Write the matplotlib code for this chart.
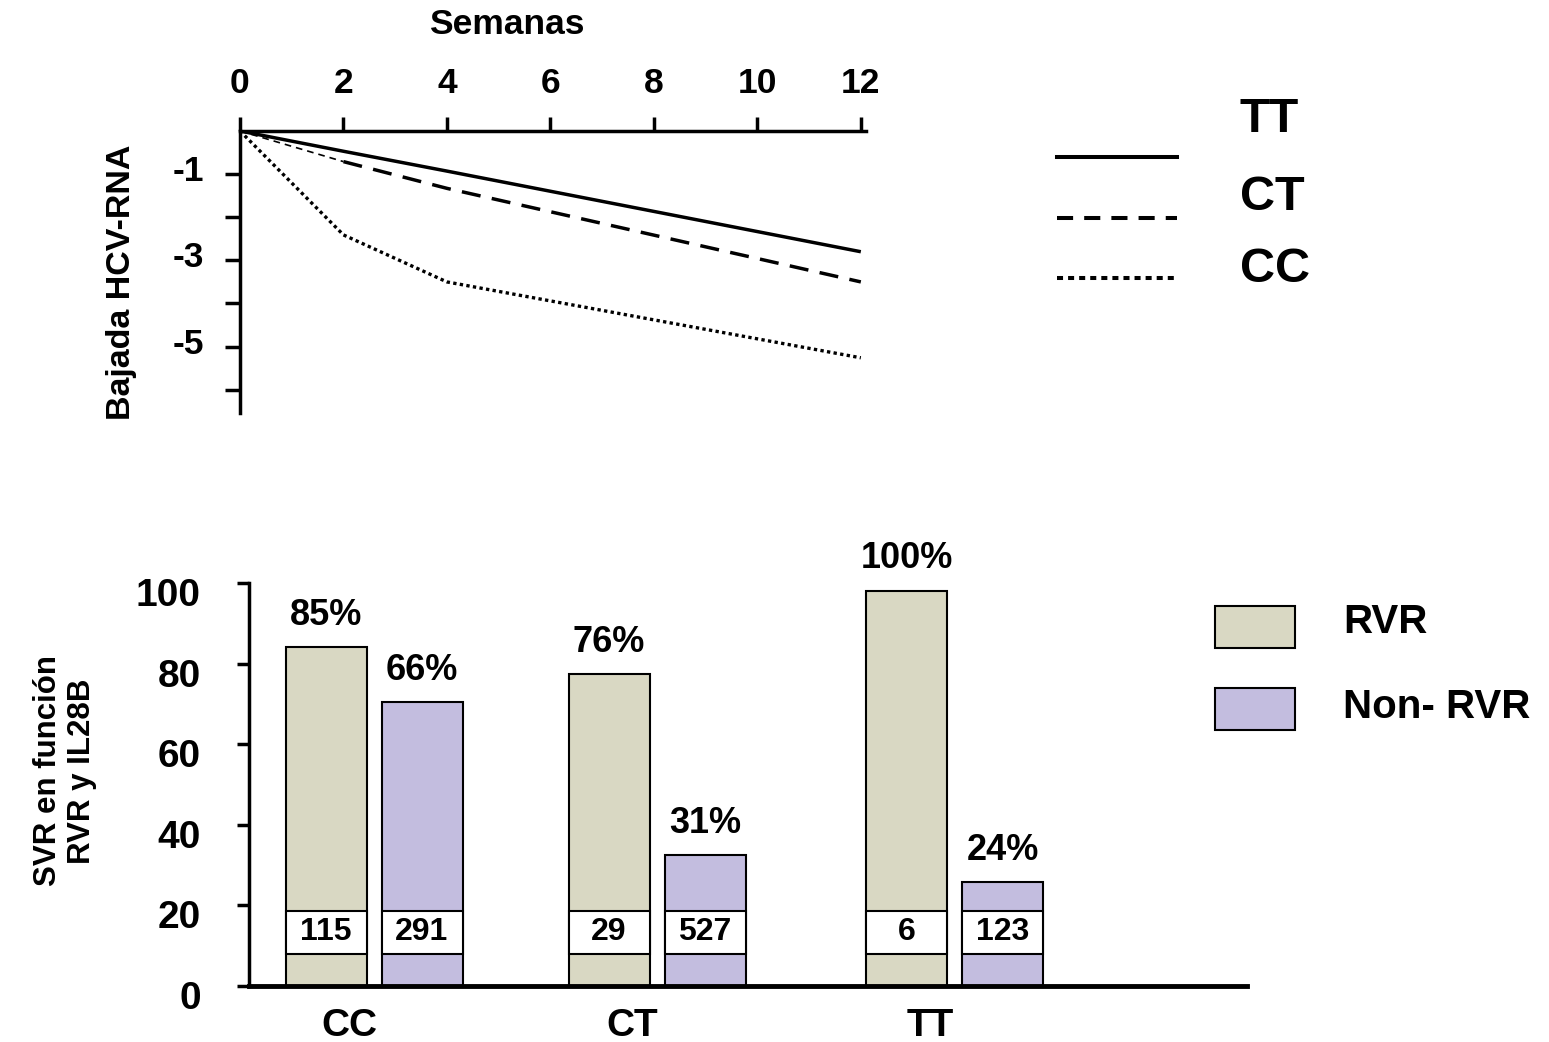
import numpy as np
import matplotlib
matplotlib.use('Agg')
import matplotlib.pyplot as plt
import matplotlib.transforms as mtransforms
from matplotlib.lines import Line2D
from matplotlib.patches import Rectangle

plt.rcParams['font.family'] = ['Liberation Sans', 'DejaVu Sans']
plt.rcParams['font.weight'] = 'bold'

# --- data: viral load decline (log) by IL28B genotype
weeks = [0, 2, 4, 12]
tt_drop = [0, -0.47, -0.93, -2.80]
ct_drop = [0, -0.71, -1.33, -3.50]
cc_drop = [0, -2.41, -3.50, -5.26]

# --- data: SVR by RVR and IL28B
genotypes = ['CC', 'CT', 'TT']
svr_rvr = [84.1, 77.3, 98.1]
svr_non = [70.4, 32.4, 25.7]
pct_rvr = [85, 76, 100]
pct_non = [66, 31, 24]
n_rvr = [115, 29, 6]
n_non = [291, 527, 123]

W, H = 1549, 1042
def fx(p):
    return p / W
def fy(p):
    return 1 - p / H

fig = plt.figure(figsize=(W / 100, H / 100), dpi=100)

# ---------------- top chart
ax1 = fig.add_axes([fx(240), fy(413), 626 / W, 282 / H])
ax1.plot(weeks, tt_drop, color='black', lw=2.5, solid_capstyle='butt')
ax1.plot(weeks[:2], ct_drop[:2], color='black', lw=1.2, dashes=(4, 3))
ax1.plot(weeks[1:], ct_drop[1:], color='black', lw=2.5, dashes=(5.5, 3.3))
ax1.plot(weeks, cc_drop, color='black', lw=2.4, dashes=(1, 1))
ax1.set_xlim(0, 12.1)
ax1.set_ylim(-6.54, 0)
for s in ['right', 'bottom']:
    ax1.spines[s].set_visible(False)
for s in ['top', 'left']:
    ax1.spines[s].set_linewidth(2.5)
ax1.set_xticks(range(0, 13, 2))
ax1.tick_params(axis='x', top=True, bottom=False, labeltop=True, labelbottom=False,
                direction='out', length=10, width=2.5, pad=12, labelsize=25.5)
ax1.set_yticks([-1, -2, -3, -4, -5, -6], ['-1', '', '-3', '', '-5', ''])
ax1.tick_params(axis='y', direction='out', length=11, width=2.5, pad=15, labelsize=25.5)
up = mtransforms.ScaledTranslation(0, 6 / 100, fig.dpi_scale_trans)
for lbl in ax1.get_yticklabels():
    lbl.set_transform(lbl.get_transform() + up)

fig.text(fx(507), fy(25), 'Semanas', ha='center', va='center', fontsize=25.5)
fig.text(fx(122), fy(282), 'Bajada HCV-RNA', ha='center', va='center',
         rotation=90, fontsize=24.5)

# top legend
leg_items = [('TT', 157, 120, 'solid'),
             ('CT', 218, 198, (0, (4, 2.75))),
             ('CC', 278, 270, (0, (1.5, 1.25)))]
for name, ly, ty, ls in leg_items:
    fig.add_artist(Line2D([fx(1057), fx(1177)], [fy(ly), fy(ly)], color='black',
                          lw=2.9, linestyle=ls, transform=fig.transFigure))
    fig.text(fx(1240), fy(ty), name, ha='left', va='center', fontsize=35)

# ---------------- bottom chart
rvr_color = '#D9D8C3'
non_color = '#C3BDDF'
group_x = np.array([1.25, 4.08, 7.06])
bw = 0.81
off = 0.48

ax2 = fig.add_axes([fx(249), fy(986), 998 / W, 403 / H])
ax2.bar(group_x - off, svr_rvr, width=bw, color=rvr_color, edgecolor='black', lw=1.5)
ax2.bar(group_x + off, svr_non, width=bw, color=non_color, edgecolor='black', lw=1.5)

xs = np.concatenate([group_x - off, group_x + off])
tops = svr_rvr + svr_non
pcts = pct_rvr + pct_non
ns = n_rvr + n_non
ax2.bar(xs, 10.8, bottom=7.9, width=bw, color='white', edgecolor='black', lw=1.5)
for x, top, p, n in zip(xs, tops, pcts, ns):
    ax2.text(x, 13.3, str(n), ha='center', va='center', fontsize=23)
    ax2.annotate(f'{p}%', (x, top), xytext=(0, 23), textcoords='offset points',
                 ha='center', va='center', fontsize=26)

ax2.set_xlim(0, 9.98)
ax2.set_ylim(0, 100)
for s in ['right', 'top']:
    ax2.spines[s].set_visible(False)
ax2.spines['left'].set_linewidth(2.5)
ax2.spines['bottom'].set_linewidth(3.5)
ax2.set_xticks(group_x - 0.25, genotypes)
ax2.tick_params(axis='x', length=0, pad=16, labelsize=28)
ax2.set_yticks(range(0, 101, 20))
ax2.tick_params(axis='y', direction='out', length=8.6, width=2.5, pad=26, labelsize=28)
shift = mtransforms.ScaledTranslation(0, -9 / 100, fig.dpi_scale_trans)
for lbl in ax2.get_yticklabels():
    lbl.set_transform(lbl.get_transform() + shift)

fig.text(fx(65), fy(771), 'SVR en función\nRVR y IL28B', ha='center', va='center',
         rotation=90, fontsize=22.5, multialignment='center', linespacing=1.15)

# bottom legend
for label, color, top, ty in [('RVR', rvr_color, 606, 622), ('Non- RVR', non_color, 688, 707)]:
    fig.add_artist(Rectangle((fx(1215), fy(top + 42)), 80 / W, 42 / H, transform=fig.transFigure,
                             facecolor=color, edgecolor='black', lw=1.5))
    fig.text(fx(1343), fy(ty), label, ha='left', va='center', fontsize=29)

fig.savefig('out.png', dpi=100)
